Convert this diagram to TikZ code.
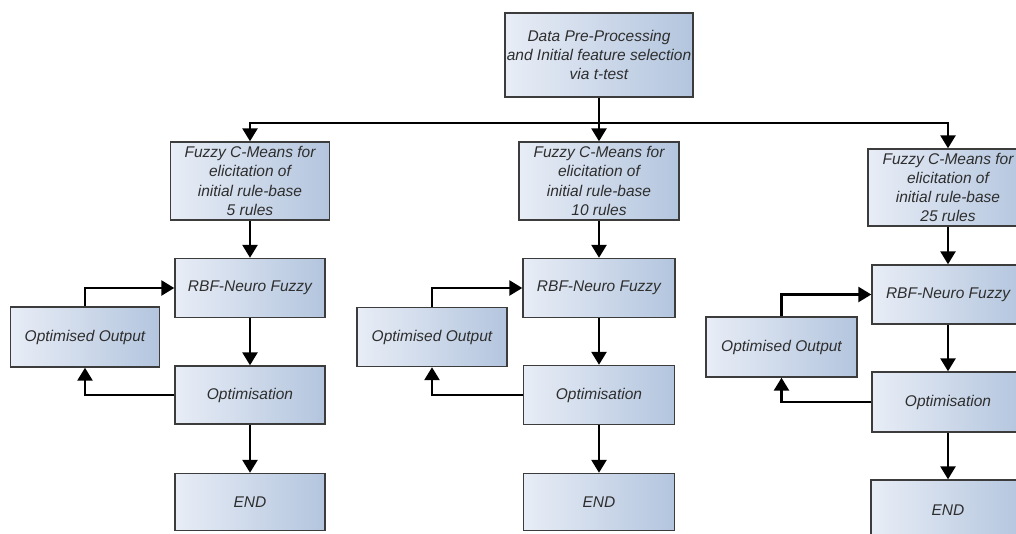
\documentclass[tikz,border=0pt]{standalone}
\usepackage{fontspec}
\setmainfont{Liberation Sans}
\usetikzlibrary{arrows.meta}
\definecolor{boxleft}{HTML}{E8EDF6}
\definecolor{boxright}{HTML}{B3C5DE}
\definecolor{boxline}{HTML}{3C3C3C}
\definecolor{boxtext}{HTML}{2E2E2E}
\tikzset{
  stage/.style={draw=boxline, line width=1.4pt, left color=boxleft, right color=boxright,
    inner sep=0pt, align=center, text=boxtext,
    font=\fontsize{15.5}{19.3}\selectfont\itshape},
  flow/.style={line width=2.6pt, -{Triangle[length=13pt,width=15pt]}},
}
\begin{document}
\begin{tikzpicture}[x=1pt, y=-1pt]
\useasboundingbox (0,0) rectangle (1016,533);

% preprocessing
\node[stage, minimum width=188pt, minimum height=84pt] (top) at (599,55)
  {Data Pre-Processing\\and Initial feature selection\\via t-test};
\coordinate (bus) at (599,123);

% column 1: 5 rules
\node[stage, minimum width=159pt, minimum height=78pt] (f1) at (250,181)
  {Fuzzy C-Means for\\elicitation of\\initial rule-base\\5 rules};
\node[stage, minimum width=150pt, minimum height=59pt] (r1) at (250,288) {RBF-Neuro Fuzzy};
\node[stage, minimum width=150pt, minimum height=58pt] (p1) at (250,395) {Optimisation};
\node[stage, minimum width=150pt, minimum height=57pt] (e1) at (250,502) {END};
\node[stage, minimum width=149pt, minimum height=60pt] (o1) at (85,337) {Optimised Output};

% column 2: 10 rules
\node[stage, minimum width=160pt, minimum height=78pt] (f2) at (599,181)
  {Fuzzy C-Means for\\elicitation of\\initial rule-base\\10 rules};
\node[stage, minimum width=152pt, minimum height=59pt] (r2) at (599,288) {RBF-Neuro Fuzzy};
\node[stage, minimum width=151pt, minimum height=59pt] (p2) at (599,395) {Optimisation};
\node[stage, minimum width=151pt, minimum height=57pt] (e2) at (599,502) {END};
\node[stage, minimum width=150pt, minimum height=59pt] (o2) at (432,337) {Optimised Output};

% column 3: 25 rules
\node[stage, minimum width=160pt, minimum height=77pt] (f3) at (948,187.5)
  {Fuzzy C-Means for\\elicitation of\\initial rule-base\\25 rules};
\node[stage, minimum width=152pt, minimum height=59pt] (r3) at (948,294.5) {RBF-Neuro Fuzzy};
\node[stage, minimum width=152pt, minimum height=60pt] (p3) at (948,402) {Optimisation};
\node[stage, minimum width=154pt, minimum height=60pt] (e3) at (948,510) {END};
\node[stage, minimum width=151pt, minimum height=60pt] (o3) at (781.5,347) {Optimised Output};

% distribution to the three rule bases
\draw[line width=2.6pt] (top.south) -- (bus);
\draw[flow] (bus) -| (f1.north);
\draw[flow] (bus) -- (f2.north);
\draw[flow] (bus) -| (f3.north);

% per-column flow and feedback loop
\foreach \c in {1,2,3}{
  \draw[flow] (f\c.south) -- (r\c.north);
  \draw[flow] (r\c.south) -- (p\c.north);
  \draw[flow] (p\c.south) -- (e\c.north);
  \draw[flow] (o\c.north) |- (r\c.west);
  \draw[flow] (p\c.west) -| (o\c.south);
}
\end{tikzpicture}
\end{document}
